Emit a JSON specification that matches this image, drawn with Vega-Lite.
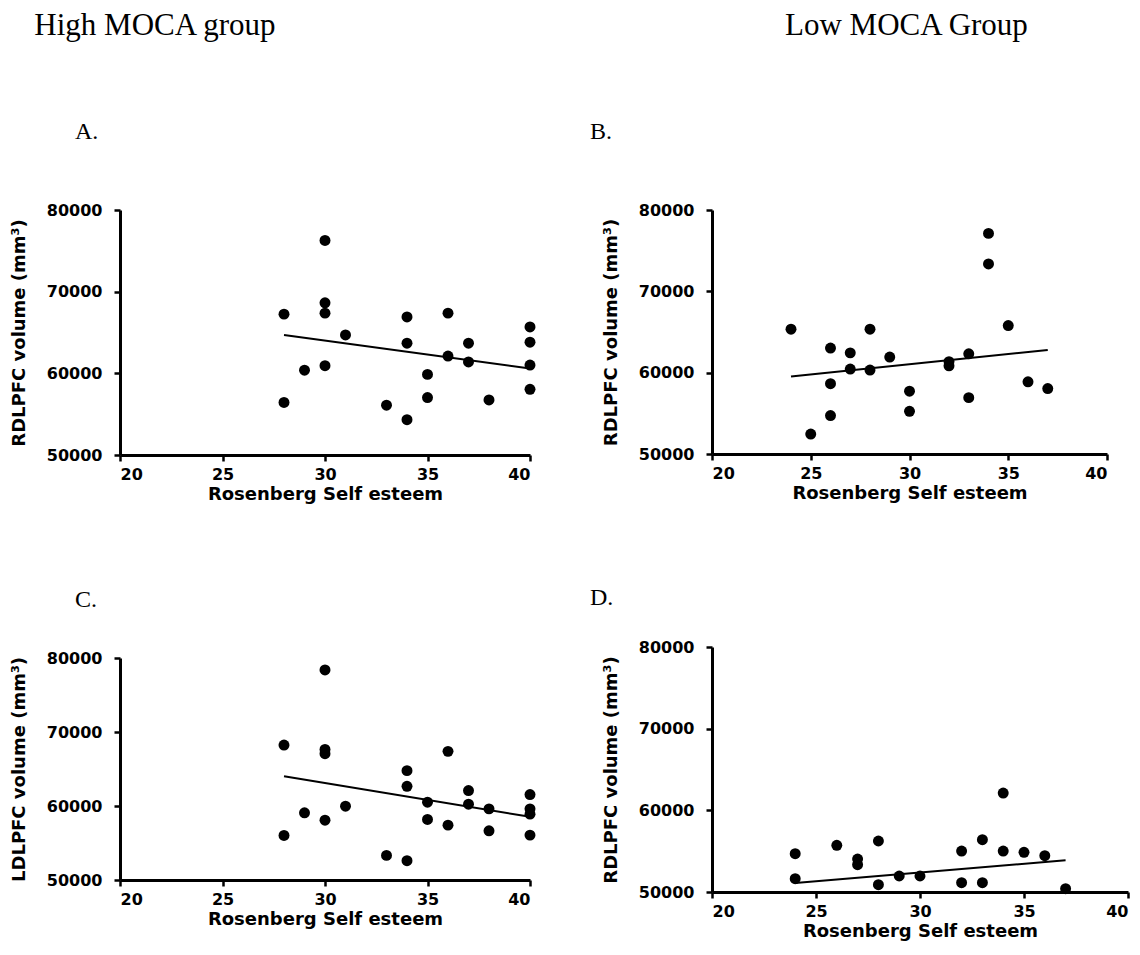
{
  "$schema": "https://vega.github.io/schema/vega-lite/v6.json",
  "background": "white",
  "padding": {"left": 10, "top": 10, "right": 5, "bottom": 5},
  "config": {
    "view": {"stroke": null},
    "axis": {
      "grid": false,
      "domainColor": "black",
      "domainWidth": 3,
      "tickColor": "black",
      "tickWidth": 2.5,
      "tickSize": 6,
      "labelFont": "DejaVu Sans",
      "labelFontWeight": "bold",
      "labelFontSize": 16,
      "labelColor": "black",
      "titleFont": "DejaVu Sans",
      "titleFontWeight": "bold",
      "titleFontSize": 18,
      "titleColor": "black"
    },
    "axisX": {"labelPadding": 5, "titlePadding": 3},
    "axisY": {"labelPadding": 12, "titlePadding": 18},
    "title": {"font": "Liberation Serif", "fontWeight": "normal", "fontSize": 24, "color": "black", "anchor": "start"}
  },
  "datasets": {
    "a": [
      {"x": 28, "y": 67250}, {"x": 28, "y": 56440}, {"x": 29, "y": 60380},
      {"x": 30, "y": 76270}, {"x": 30, "y": 68640}, {"x": 30, "y": 67370}, {"x": 30, "y": 60930},
      {"x": 31, "y": 64700}, {"x": 33, "y": 56100},
      {"x": 34, "y": 66910}, {"x": 34, "y": 63690}, {"x": 34, "y": 54320},
      {"x": 35, "y": 59870}, {"x": 35, "y": 57030},
      {"x": 36, "y": 67370}, {"x": 36, "y": 62120},
      {"x": 37, "y": 63690}, {"x": 37, "y": 61400},
      {"x": 38, "y": 56740},
      {"x": 40, "y": 65680}, {"x": 40, "y": 63810}, {"x": 40, "y": 61020}, {"x": 40, "y": 58050}
    ],
    "aLine": [{"x": 28, "y": 64700}, {"x": 40, "y": 60590}],
    "b": [
      {"x": 24, "y": 65350}, {"x": 25, "y": 52455},
      {"x": 26, "y": 63030}, {"x": 26, "y": 58640}, {"x": 26, "y": 54730},
      {"x": 27, "y": 62435}, {"x": 27, "y": 60440},
      {"x": 28, "y": 65350}, {"x": 28, "y": 60320},
      {"x": 29, "y": 61920},
      {"x": 30, "y": 57725}, {"x": 30, "y": 55250},
      {"x": 32, "y": 61360}, {"x": 32, "y": 60840},
      {"x": 33, "y": 62315}, {"x": 33, "y": 56930},
      {"x": 34, "y": 77126}, {"x": 34, "y": 73373},
      {"x": 35, "y": 65790}, {"x": 36, "y": 58880}, {"x": 37, "y": 58044}
    ],
    "bLine": [{"x": 24, "y": 59520}, {"x": 37, "y": 62795}],
    "c": [
      {"x": 28, "y": 68235}, {"x": 28, "y": 56020}, {"x": 29, "y": 59075},
      {"x": 30, "y": 78383}, {"x": 30, "y": 67652}, {"x": 30, "y": 67068}, {"x": 30, "y": 58087},
      {"x": 31, "y": 59973}, {"x": 33, "y": 53327},
      {"x": 34, "y": 64778}, {"x": 34, "y": 62667}, {"x": 34, "y": 52609},
      {"x": 35, "y": 60512}, {"x": 35, "y": 58177},
      {"x": 36, "y": 67382}, {"x": 36, "y": 57414},
      {"x": 37, "y": 62084}, {"x": 37, "y": 60243},
      {"x": 38, "y": 59614}, {"x": 38, "y": 56650},
      {"x": 40, "y": 61545}, {"x": 40, "y": 59614}, {"x": 40, "y": 58900}, {"x": 40, "y": 56067}
    ],
    "cLine": [{"x": 28, "y": 64015}, {"x": 40, "y": 58536}],
    "d": [
      {"x": 24, "y": 54694}, {"x": 24, "y": 51633}, {"x": 26, "y": 55714},
      {"x": 27, "y": 54041}, {"x": 27, "y": 53347},
      {"x": 28, "y": 56245}, {"x": 28, "y": 50898},
      {"x": 29, "y": 51959}, {"x": 30, "y": 51959},
      {"x": 32, "y": 55020}, {"x": 32, "y": 51143},
      {"x": 33, "y": 56408}, {"x": 33, "y": 51143},
      {"x": 34, "y": 62122}, {"x": 34, "y": 55020},
      {"x": 35, "y": 54857}, {"x": 36, "y": 54449}, {"x": 37, "y": 50408}
    ],
    "dLine": [{"x": 24, "y": 51102}, {"x": 37, "y": 53878}]
  },
  "spacing": 54,
  "hconcat": [
    {
      "title": {"text": "High MOCA group", "frame": "bounds", "dx": 24, "offset": 78, "fontSize": 31},
      "spacing": 85,
      "vconcat": [
        {
          "title": {"text": "A.", "frame": "group", "dx": -45, "offset": 58},
          "width": 410, "height": 245,
          "layer": [
            {"data": {"name": "a"}, "mark": {"type": "circle", "size": 120, "color": "black", "opacity": 1},
             "encoding": {
               "x": {"field": "x", "type": "quantitative", "scale": {"domain": [20, 40]}, "axis": {"values": [20, 25, 30, 35, 40], "format": "d"}, "title": "Rosenberg Self esteem"},
               "y": {"field": "y", "type": "quantitative", "scale": {"domain": [50000, 80000]}, "axis": {"values": [50000, 60000, 70000, 80000], "format": "d"}, "title": "RDLPFC volume (mm³)"}}},
            {"data": {"name": "aLine"}, "mark": {"type": "line", "color": "black", "strokeWidth": 2},
             "encoding": {"x": {"field": "x", "type": "quantitative"}, "y": {"field": "y", "type": "quantitative"}}}
          ]
        },
        {
          "title": {"text": "C.", "frame": "group", "dx": -45, "offset": 38},
          "width": 410, "height": 222,
          "layer": [
            {"data": {"name": "c"}, "mark": {"type": "circle", "size": 120, "color": "black", "opacity": 1},
             "encoding": {
               "x": {"field": "x", "type": "quantitative", "scale": {"domain": [20, 40]}, "axis": {"values": [20, 25, 30, 35, 40], "format": "d"}, "title": "Rosenberg Self esteem"},
               "y": {"field": "y", "type": "quantitative", "scale": {"domain": [50000, 80000]}, "axis": {"values": [50000, 60000, 70000, 80000], "format": "d"}, "title": "LDLPFC volume (mm³)"}}},
            {"data": {"name": "cLine"}, "mark": {"type": "line", "color": "black", "strokeWidth": 2},
             "encoding": {"x": {"field": "x", "type": "quantitative"}, "y": {"field": "y", "type": "quantitative"}}}
          ]
        }
      ]
    },
    {
      "title": {"text": "Low MOCA Group", "frame": "bounds", "dx": 195, "offset": 78, "fontSize": 31},
      "spacing": 84,
      "vconcat": [
        {
          "title": {"text": "B.", "frame": "group", "dx": -122, "offset": 58},
          "width": 395, "height": 244,
          "layer": [
            {"data": {"name": "b"}, "mark": {"type": "circle", "size": 120, "color": "black", "opacity": 1},
             "encoding": {
               "x": {"field": "x", "type": "quantitative", "scale": {"domain": [20, 40]}, "axis": {"values": [20, 25, 30, 35, 40], "format": "d"}, "title": "Rosenberg Self esteem"},
               "y": {"field": "y", "type": "quantitative", "scale": {"domain": [50000, 80000]}, "axis": {"values": [50000, 60000, 70000, 80000], "format": "d"}, "title": "RDLPFC volume (mm³)"}}},
            {"data": {"name": "bLine"}, "mark": {"type": "line", "color": "black", "strokeWidth": 2},
             "encoding": {"x": {"field": "x", "type": "quantitative"}, "y": {"field": "y", "type": "quantitative"}}}
          ]
        },
        {
          "title": {"text": "D.", "frame": "group", "dx": -122, "offset": 29},
          "width": 416, "height": 245,
          "layer": [
            {"data": {"name": "d"}, "mark": {"type": "circle", "size": 120, "color": "black", "opacity": 1},
             "encoding": {
               "x": {"field": "x", "type": "quantitative", "scale": {"domain": [20, 40]}, "axis": {"values": [20, 25, 30, 35, 40], "format": "d"}, "title": "Rosenberg Self esteem"},
               "y": {"field": "y", "type": "quantitative", "scale": {"domain": [50000, 80000]}, "axis": {"values": [50000, 60000, 70000, 80000], "format": "d"}, "title": "RDLPFC volume (mm³)"}}},
            {"data": {"name": "dLine"}, "mark": {"type": "line", "color": "black", "strokeWidth": 2},
             "encoding": {"x": {"field": "x", "type": "quantitative"}, "y": {"field": "y", "type": "quantitative"}}}
          ]
        }
      ]
    }
  ]
}
